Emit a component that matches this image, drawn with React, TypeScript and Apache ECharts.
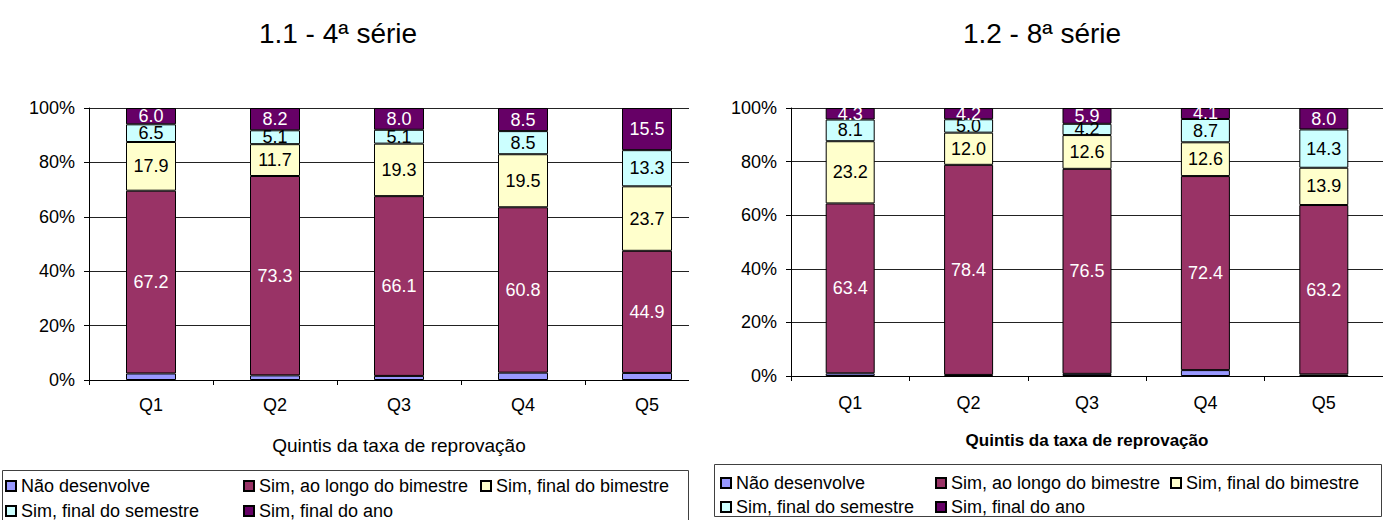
import React, { useEffect, useRef } from "react";
import * as echarts from "echarts";

const categories = ["Q1", "Q2", "Q3", "Q4", "Q5"];
const seriesNames = [
  "Não desenvolve",
  "Sim, ao longo do bimestre",
  "Sim, final do bimestre",
  "Sim, final do semestre",
  "Sim, final do ano",
];
const colors = ["#9999FF", "#993366", "#FFFFCC", "#CCFFFF", "#660066"];
const labelColors = ["", "#ffffff", "#000000", "#000000", "#ffffff"];

// 1.1 - 4ª série
const naoDesenvolve4 = [2.4, 1.7, 1.5, 2.7, 2.6];
const aoLongo4 = [67.2, 73.3, 66.1, 60.8, 44.9];
const finalBimestre4 = [17.9, 11.7, 19.3, 19.5, 23.7];
const finalSemestre4 = [6.5, 5.1, 5.1, 8.5, 13.3];
const finalAno4 = [6.0, 8.2, 8.0, 8.5, 15.5];

// 1.2 - 8ª série
const naoDesenvolve8 = [1.0, 0.4, 0.8, 2.2, 0.6];
const aoLongo8 = [63.4, 78.4, 76.5, 72.4, 63.2];
const finalBimestre8 = [23.2, 12.0, 12.6, 12.6, 13.9];
const finalSemestre8 = [8.1, 5.0, 4.2, 8.7, 14.3];
const finalAno8 = [4.3, 4.2, 5.9, 4.1, 8.0];

const titles = ["1.1 - 4ª série", "1.2 - 8ª série"];
const axisName = "Quintis da taxa de reprovação";

const FONT = '"Liberation Sans", Arial, sans-serif';

export default function App() {
  const ref = useRef<HTMLDivElement>(null);

  useEffect(() => {
    if (!ref.current) return;
    const chart = echarts.init(ref.current, undefined, { renderer: "svg" });

    const data4 = [naoDesenvolve4, aoLongo4, finalBimestre4, finalSemestre4, finalAno4];
    const data8 = [naoDesenvolve8, aoLongo8, finalBimestre8, finalSemestre8, finalAno8];

    const mkSeries = (data: number[][], idx: number) =>
      data.map((vals, i) => ({
        type: "bar",
        name: seriesNames[i],
        stack: "s" + idx,
        xAxisIndex: idx,
        yAxisIndex: idx,
        barWidth: idx === 0 ? 50 : 49,
        data: vals,
        itemStyle: { color: colors[i], borderColor: "#000", borderWidth: 1 },
        label: {
          show: i > 0,
          position: "inside",
          color: labelColors[i] || "#000",
          fontSize: 18,
          fontFamily: FONT,
          formatter: (p: any) => Number(p.value).toFixed(1),
        },
        emphasis: { disabled: true },
      }));

    const mkX = (idx: number) => ({
      type: "category",
      gridIndex: idx,
      data: categories,
      boundaryGap: true,
      axisLine: { show: true, lineStyle: { color: "#000", width: 1 } },
      axisTick: { show: true, length: 5, lineStyle: { color: "#000" } },
      axisLabel: {
        color: "#000",
        fontSize: 18,
        fontFamily: FONT,
        margin: idx === 0 ? 16 : 18,
      },
      name: axisName,
      nameLocation: "middle",
      nameGap: 56,
      nameTextStyle: {
        color: "#000",
        fontSize: idx === 0 ? 19 : 17,
        fontWeight: idx === 0 ? "normal" : "bold",
        fontFamily: FONT,
      },
    });

    const mkY = (idx: number) => ({
      type: "value",
      gridIndex: idx,
      min: 0,
      max: 100,
      interval: 20,
      axisLine: { show: true, lineStyle: { color: "#000", width: 1 } },
      axisTick: { show: true, length: 5, lineStyle: { color: "#000" } },
      splitLine: { show: true, lineStyle: { color: "#222", width: 1 } },
      axisLabel: {
        color: "#000",
        fontSize: 18,
        fontFamily: FONT,
        margin: 14,
        formatter: "{value}%",
      },
    });

    const legendPos = [
      // left chart
      { left: 5, top: 477, name: seriesNames[0] },
      { left: 243, top: 477, name: seriesNames[1] },
      { left: 480, top: 477, name: seriesNames[2] },
      { left: 5, top: 502, name: seriesNames[3] },
      { left: 243, top: 502, name: seriesNames[4] },
      // right chart
      { left: 720, top: 474, name: seriesNames[0] },
      { left: 935, top: 474, name: seriesNames[1] },
      { left: 1170, top: 474, name: seriesNames[2] },
      { left: 720, top: 498, name: seriesNames[3] },
      { left: 935, top: 498, name: seriesNames[4] },
    ];

    const option: any = {
      animation: false,
      grid: [
        { left: 89, top: 108, width: 620, height: 272 },
        { left: 791, top: 108, width: 615, height: 268 },
      ],
      xAxis: [mkX(0), mkX(1)],
      yAxis: [mkY(0), mkY(1)],
      legend: legendPos.map((l) => ({
        left: l.left,
        top: l.top,
        padding: 0,
        itemWidth: 10,
        itemHeight: 10,
        icon: "rect",
        selectedMode: false,
        data: [l.name],
        textStyle: { color: "#000", fontSize: 18, fontFamily: FONT },
      })),
      series: [...mkSeries(data4, 0), ...mkSeries(data8, 1)],
      graphic: [
        {
          type: "rect",
          z: 100,
          shape: { x: 689, y: 95, width: 25, height: 300 },
          style: { fill: "#fff" },
        },
        {
          type: "rect",
          z: 101,
          shape: { x: 2.5, y: 470.5, width: 686, height: 60 },
          style: { fill: "none", stroke: "#404040", lineWidth: 1 },
        },
        {
          type: "rect",
          z: 101,
          shape: { x: 714.5, y: 464.5, width: 667, height: 52 },
          style: { fill: "none", stroke: "#404040", lineWidth: 1 },
        },
        {
          type: "text",
          z: 101,
          x: 338,
          y: 33,
          style: {
            text: titles[0],
            fontSize: 28,
            fontFamily: FONT,
            fill: "#000",
            align: "center",
            verticalAlign: "middle",
          },
        },
        {
          type: "text",
          z: 101,
          x: 1042,
          y: 33,
          style: {
            text: titles[1],
            fontSize: 28,
            fontFamily: FONT,
            fill: "#000",
            align: "center",
            verticalAlign: "middle",
          },
        },
      ],
    };

    chart.setOption(option);
    return () => chart.dispose();
  }, []);

  return (
    <div
      ref={ref}
      style={{ position: "absolute", left: 0, top: 0, width: 1383, height: 520, background: "#fff" }}
    />
  );
}
